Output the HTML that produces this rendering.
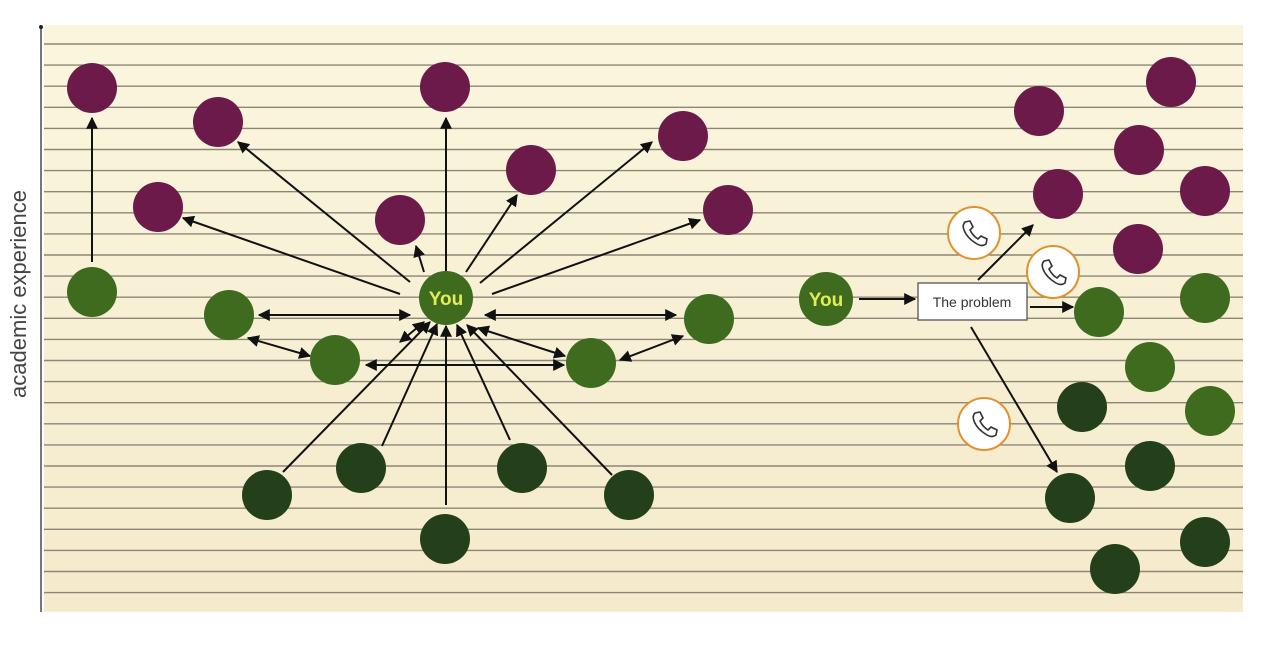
<!DOCTYPE html>
<html><head><meta charset="utf-8"><style>
html,body{margin:0;padding:0;background:#fff;width:1278px;height:646px;overflow:hidden}
svg{display:block}
</style></head><body>
<svg width="1278" height="646" viewBox="0 0 1278 646" xmlns="http://www.w3.org/2000/svg">
<defs>
<linearGradient id="bg" x1="0" y1="0" x2="0" y2="1"><stop offset="0" stop-color="#faf6de"/><stop offset="1" stop-color="#f5eacb"/></linearGradient>
<marker id="a" viewBox="0 0 10 10" refX="9" refY="5" markerWidth="6" markerHeight="6" orient="auto-start-reverse"><path d="M0,0L10,5L0,10z" fill="#111"/></marker>
<g id="ph"><path d="M-9,-11 l5,-1 l3,6 l-3,3 q3,6 8,9 l3,-3 l6,3 l-1,5 q-4,3 -9,0 q-10,-6 -13,-14 q-2,-5 1,-8z" fill="none" stroke="#333" stroke-width="1.6"/></g>
</defs>
<rect x="44" y="25" width="1199" height="587" fill="url(#bg)"/>
<path stroke="#8c8676" stroke-width="1.4" fill="none" d="M44 44H1243M44 65.1H1243M44 86.2H1243M44 107.3H1243M44 128.4H1243M44 149.5H1243M44 170.6H1243M44 191.7H1243M44 212.8H1243M44 233.9H1243M44 255H1243M44 276.1H1243M44 297.2H1243M44 318.3H1243M44 339.4H1243M44 360.5H1243M44 381.6H1243M44 402.7H1243M44 423.8H1243M44 444.9H1243M44 466H1243M44 487.1H1243M44 508.2H1243M44 529.3H1243M44 550.4H1243M44 571.5H1243M44 592.6H1243"/>
<line x1="41" y1="27" x2="41" y2="612" stroke="#777" stroke-width="2"/>
<circle cx="41" cy="27" r="2" fill="#222"/>
<text transform="translate(26,294) rotate(-90)" text-anchor="middle" font-family="Liberation Sans, sans-serif" font-size="22" fill="#444">academic experience</text>

<g stroke="#111" stroke-width="2" fill="none" marker-end="url(#a)">
<line x1="92" y1="262" x2="92" y2="118"/>
<line x1="410" y1="282" x2="238" y2="142"/>
<line x1="446" y1="272" x2="446" y2="118"/>
<line x1="400" y1="294" x2="183" y2="218"/>
<line x1="480" y1="283" x2="652" y2="142"/>
<line x1="466" y1="272" x2="517" y2="195"/>
<line x1="424" y1="272" x2="416" y2="246"/>
<line x1="492" y1="294" x2="700" y2="220"/>
<line x1="283" y1="472" x2="430" y2="322"/>
<line x1="382" y1="446" x2="437" y2="324"/>
<line x1="446" y1="505" x2="446" y2="326"/>
<line x1="510" y1="440" x2="457" y2="325"/>
<line x1="612" y1="475" x2="467" y2="325"/>
<line x1="859" y1="299" x2="915" y2="299"/>
<line x1="978" y1="280" x2="1033" y2="225"/>
<line x1="1030" y1="307" x2="1073" y2="307"/>
<line x1="971" y1="327" x2="1057" y2="472"/>
</g>
<g stroke="#111" stroke-width="2" fill="none" marker-end="url(#a)" marker-start="url(#a)">
<line x1="259" y1="315" x2="410" y2="315"/>
<line x1="485" y1="315" x2="676" y2="315"/>
<line x1="248" y1="338" x2="310" y2="356"/>
<line x1="366" y1="365" x2="564" y2="365"/>
<line x1="620" y1="360" x2="683" y2="336"/>
<line x1="478" y1="328" x2="565" y2="356"/>
<line x1="400" y1="342" x2="424" y2="322"/>
</g>

<g fill="#6b1a4a">
<circle cx="92" cy="88" r="25"/><circle cx="218" cy="122" r="25"/><circle cx="445" cy="87" r="25"/>
<circle cx="158" cy="207" r="25"/><circle cx="683" cy="136" r="25"/><circle cx="531" cy="170" r="25"/>
<circle cx="400" cy="220" r="25"/><circle cx="728" cy="210" r="25"/>
<circle cx="1039" cy="111" r="25"/><circle cx="1171" cy="82" r="25"/><circle cx="1139" cy="150" r="25"/>
<circle cx="1058" cy="194" r="25"/><circle cx="1205" cy="191" r="25"/><circle cx="1138" cy="249" r="25"/>
</g>
<g fill="#3f6b1f">
<circle cx="92" cy="292" r="25"/><circle cx="229" cy="315" r="25"/><circle cx="335" cy="360" r="25"/>
<circle cx="709" cy="319" r="25"/><circle cx="591" cy="363" r="25"/><circle cx="446" cy="298" r="27"/>
<circle cx="826" cy="299" r="27"/><circle cx="1099" cy="312" r="25"/><circle cx="1205" cy="298" r="25"/>
<circle cx="1150" cy="367" r="25"/><circle cx="1210" cy="411" r="25"/>
</g>
<g fill="#24401a">
<circle cx="267" cy="495" r="25"/><circle cx="361" cy="468" r="25"/><circle cx="522" cy="468" r="25"/>
<circle cx="629" cy="495" r="25"/><circle cx="445" cy="539" r="25"/>
<circle cx="1082" cy="407" r="25"/><circle cx="1150" cy="466" r="25"/><circle cx="1070" cy="498" r="25"/>
<circle cx="1205" cy="542" r="25"/><circle cx="1115" cy="569" r="25"/>
</g>
<g font-family="Liberation Sans, sans-serif" font-weight="bold" font-size="19" fill="#e0ec5a" text-anchor="middle">
<text x="446" y="305">You</text><text x="826" y="306">You</text>
</g>
<rect x="918" y="283" width="109" height="37" fill="#fff" stroke="#555" stroke-width="1.3"/>
<text x="972" y="307" text-anchor="middle" font-family="Liberation Sans, sans-serif" font-size="14" fill="#333">The problem</text>
<g fill="#fff" stroke="#e0922e" stroke-width="2">
<circle cx="974" cy="233" r="26"/><circle cx="1053" cy="272" r="26"/><circle cx="984" cy="424" r="26"/>
</g>
<use href="#ph" x="974" y="233"/><use href="#ph" x="1053" y="272"/><use href="#ph" x="984" y="424"/>
</svg>
</body></html>
